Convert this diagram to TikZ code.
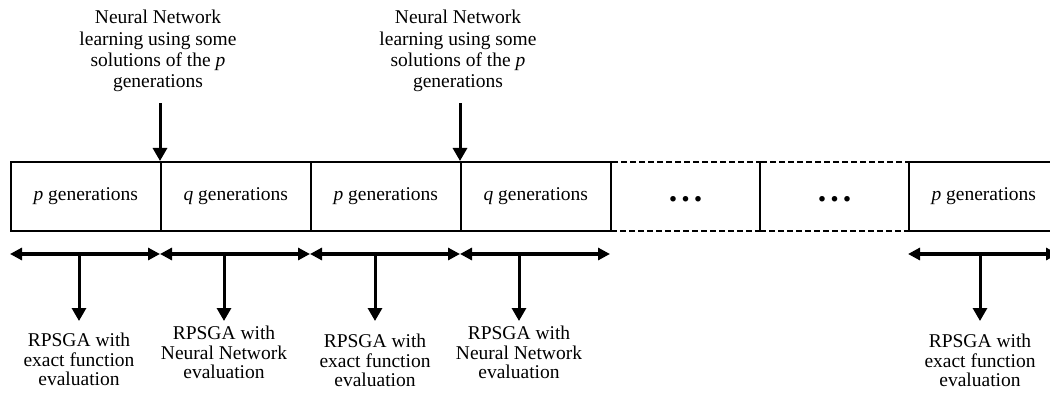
\documentclass[tikz,border=0pt]{standalone}
\usepackage{fontspec}
\setmainfont{Liberation Serif}
\usetikzlibrary{arrows.meta}
\newcommand\gapdots{{\fontsize{34}{34}\selectfont\bfseries .\hspace{4pt}.\hspace{4pt}.}}
\begin{document}
\begin{tikzpicture}[x=1pt,y=-1pt,
  genbox/.style={draw, line width=1.6pt, minimum width=150pt, minimum height=69pt,
    inner sep=0pt, anchor=north west, text height=13pt, text depth=4pt,
    font=\fontsize{19.5}{21}\selectfont},
  dashbox/.style={genbox, minimum width=149pt, line width=2.2pt, dash pattern=on 6pt off 3pt},
  span/.style={{Triangle[length=12pt,width=12pt]}-{Triangle[length=12pt,width=12pt]}, line width=3.5pt},
  down/.style={-{Triangle[length=13pt,width=14pt]}, line width=3pt},
  note/.style={align=center, inner sep=0pt, font=\fontsize{19.5}{21.3}\selectfont},
  stage/.style={align=center, inner sep=0pt, anchor=north, font=\fontsize{19.5}{19.5}\selectfont},
]
\useasboundingbox (0,0) rectangle (1050,398);
\clip (0,0) rectangle (1050,398);

% generation blocks
\node[genbox]  (b1) at (10,161)  {\textit{p} generations};
\node[genbox]  (b2) at (160,161) {\textit{q} generations};
\node[genbox]  (b3) at (310,161) {\textit{p} generations};
\node[genbox]  (b4) at (460,161) {\textit{q} generations};
\node[genbox]  (b7) at (908,161) {\textit{p} generations};
\node[dashbox] (b5) at (610,161) {\gapdots};
\node[dashbox] (b6) at (759,161) {\gapdots};

% neural network training notes
\node[note] (n1) at (158,51) {Neural Network\\learning using some\\solutions of the \textit{p}\\generations};
\node[note] (n2) at (458,51) {Neural Network\\learning using some\\solutions of the \textit{p}\\generations};
\draw[down, shorten <=11pt] (n1.south -| b2.north west) -- (b2.north west);
\draw[down, shorten <=11pt] (n2.south -| b4.north west) -- (b4.north west);

% spans of each phase
\coordinate (h0) at (10,254);
\coordinate (h1) at (160,254);
\coordinate (h2) at (310,254);
\coordinate (h3) at (460,254);
\coordinate (h4) at (610,254);
\coordinate (h5) at (908,254);
\coordinate (h6) at (1058,254);
\draw[span] (h0) -- (h1);
\draw[span] (h1) -- (h2);
\draw[span] (h2) -- (h3);
\draw[span] (h3) -- (h4);
\draw[span] (h5) -- (h6);

% evaluation mode of each phase
\node[stage] (r1) at (79,333)  {RPSGA with\\exact function\\evaluation};
\node[stage] (r2) at (224,326) {RPSGA with\\Neural Network\\evaluation};
\node[stage] (r3) at (375,334) {RPSGA with\\exact function\\evaluation};
\node[stage] (r4) at (519,326) {RPSGA with\\Neural Network\\evaluation};
\node[stage] (r5) at (980,334) {RPSGA with\\exact function\\evaluation};

\coordinate (v1) at (79,254);
\coordinate (v2) at (224,254);
\coordinate (v3) at (375,254);
\coordinate (v4) at (519,254);
\coordinate (v5) at (980,254);
\draw[down, shorten >=12pt] (v1) -- (r1.north);
\draw[down, shorten >=5pt]  (v2) -- (r2.north);
\draw[down, shorten >=13pt] (v3) -- (r3.north);
\draw[down, shorten >=5pt]  (v4) -- (r4.north);
\draw[down, shorten >=13pt] (v5) -- (r5.north);
\end{tikzpicture}
\end{document}
